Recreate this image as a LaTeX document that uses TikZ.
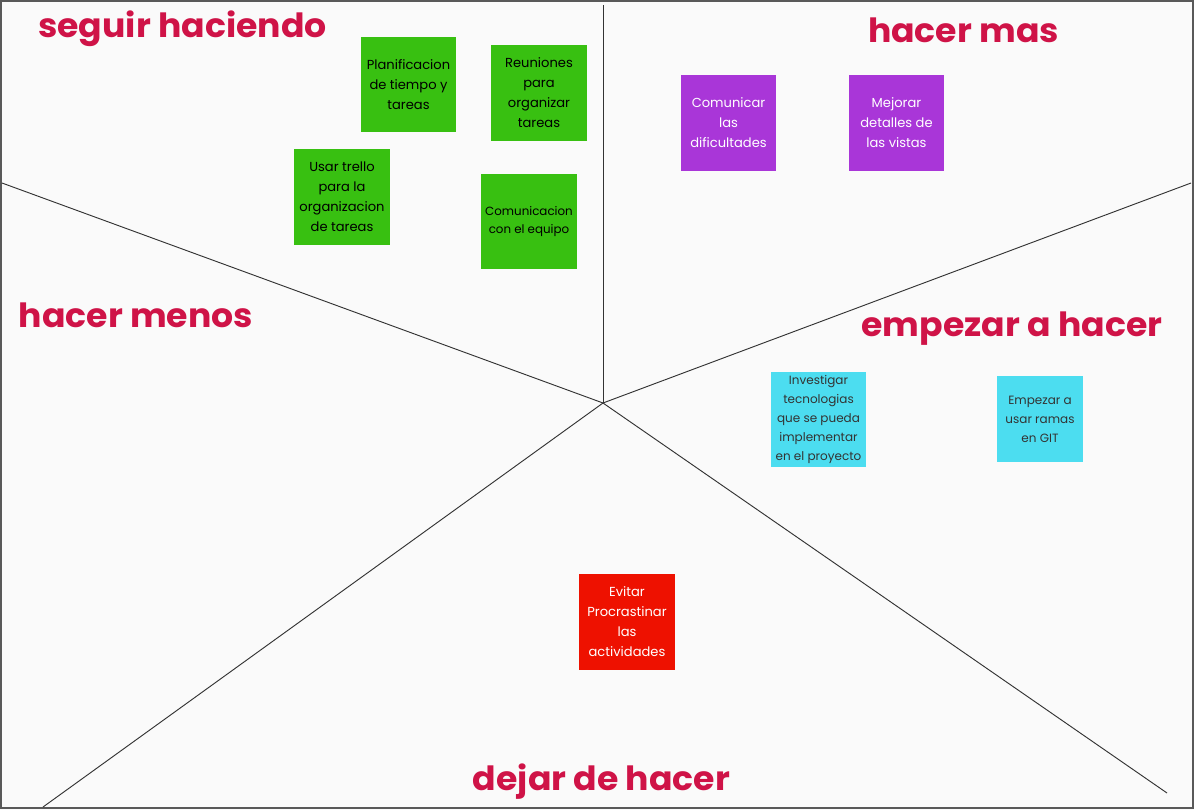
\documentclass[tikz,border=0pt]{standalone}
\usepackage{fontspec}
\setmainfont{Poppins}
\newfontfamily\titlefont[FakeStretch=1.04]{Poppins}
\definecolor{titlered}{HTML}{CF1347}
\definecolor{notegreen}{HTML}{38C011}
\definecolor{notepurple}{HTML}{A936D8}
\definecolor{notecyan}{HTML}{4CDDF0}
\definecolor{notered}{HTML}{EE1100}
\definecolor{paper}{HTML}{FAFAFA}
\newcommand{\notefont}{\fontsize{9.8}{15}\selectfont}

\begin{document}
\begin{tikzpicture}[x=0.75pt,y=-0.75pt,
	title/.style={text=titlered,anchor=base,inner sep=0pt,font=\titlefont\fontsize{25}{30}\selectfont\bfseries},
	note/.style={minimum size=71.5pt,inner sep=1pt,align=center,font=\notefont},
	smallnote/.style={note,minimum size=64.5pt}]
	\useasboundingbox (0,0) rectangle (1194,810);
	\fill[paper] (0,0) rectangle (1194,810);
	\draw[black!65,line width=1.5pt] (1,1) rectangle (1193,808);
	
	% dividing lines
	\coordinate (c) at (603,403);
	\coordinate (up) at (603,5);
	\coordinate (left) at (2,183);
	\coordinate (right) at (1191,183);
	\coordinate (downleft) at (43,807);
	\coordinate (downright) at (1167,793);
	\foreach \e in {up,left,right,downleft,downright}
		\draw[black!80,line width=0.7pt] (c) -- (\e);
	
	% titles
	\node[title] (seguir) at (182.5,37) {seguir haciendo};
	\node[title] (mas) at (963.5,42) {hacer mas};
	\node[title] (menos) at (136,327) {hacer menos};
	\node[title] (empezar) at (1012,336) {empezar a hacer};
	\node[title] (dejar) at (601.5,790) {dejar de hacer};
	
	% seguir haciendo
	\node[note,fill=notegreen] (plan) at (408.5,84.5) {Planificacion\\de tiempo y\\tareas};
	\node[note,fill=notegreen] (reun) at (539,93) {Reuniones\\para\\organizar\\tareas};
	\node[note,fill=notegreen] (trello) at (342,197) {Usar trello\\para la\\organizacion\\de tareas};
	\node[note,fill=notegreen,font=\fontsize{8.9}{13.5}\selectfont] (comeq) at (529,221.5) {Comunicacion\\con el equipo};
	
	% hacer mas
	\node[note,fill=notepurple,text=white] (comdif) at (728.5,123) {Comunicar\\las\\dificultades};
	\node[note,fill=notepurple,text=white] (mejorar) at (896.5,123) {Mejorar\\detalles de\\las vistas};
	
	% empezar a hacer
	\node[note,fill=notecyan,text=black!80,font=\fontsize{9}{14.2}\selectfont] (invest) at (818.5,419.5) {Investigar\\tecnologias\\que se pueda\\implementar\\en el proyecto};
	\node[smallnote,fill=notecyan,text=black!80,font=\fontsize{9}{14.2}\selectfont] (ramas) at (1040,419) {Empezar a\\usar ramas\\en GIT};
	
	% dejar de hacer
	\node[note,fill=notered,text=white] (evitar) at (627,622) {Evitar\\Procrastinar\\las\\actividades};
\end{tikzpicture}
\end{document}
